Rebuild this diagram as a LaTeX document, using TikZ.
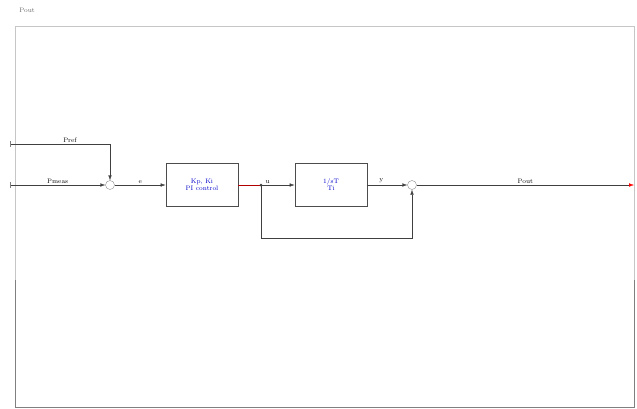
\documentclass[tikz,border=0pt]{standalone}
\usetikzlibrary{arrows.meta,positioning}
\begin{document}
\begin{tikzpicture}[x=1pt,y=-1pt,
    blk/.style={draw=black!70,thick,fill=white,minimum width=72pt,minimum height=43pt,
      font=\fontsize{6.5}{7}\selectfont,text=blue!80!black,align=center,inner sep=1pt},
    sumpt/.style={circle,draw=black!45,minimum size=9pt,inner sep=0pt},
    sig/.style={draw=black!75,-{Latex[length=5pt,width=3.5pt]}},
    lbl/.style={font=\fontsize{6.5}{7}\selectfont,above,inner sep=1.5pt}]
    \useasboundingbox (0,0) rectangle (637,408);
    % Outer frame
    \draw[gray!45,thick] (15,280) -- (15,26) -- (634,26) -- (634,280);
    \draw[gray] (15,280) -- (15,407) -- (634,407) -- (634,280);
    \node[font=\fontsize{6.5}{7}\selectfont,text=black!60] (title) at (27,10) {Pout};

    % Blocks and summing points
    \node[sumpt] (sum1) at (110,185) {};
    \node[blk] (ctrl) at (202,185) {Kp, Ki\\PI control};
    \node[blk] (plant) at (331,185) {1/sT\\Ti};
    \node[sumpt] (sum2) at (412,185) {};

    % Free ends
    \coordinate (inref) at (10,144);
    \coordinate (inmeas) at (10,185);
    \coordinate (br) at (261,185);
    \coordinate (outp) at (634,185);

    % Signals
    \draw[sig] (inref) -| (sum1) node[lbl, pos=0.3] {Pref};
    \draw[sig] (inmeas) -- (sum1) node[lbl, midway] {Pmeas};
    \draw[sig] (sum1) -- (ctrl) node[lbl, midway] {e};
    \draw[red!70!black] (ctrl) -- (br);
    \draw[sig] (br) -- (plant) node[lbl, pos=0.2] {u};
    \fill[black!75] (br) circle (1.5pt);
    \draw[sig] (plant) -- (sum2) node[lbl, pos=0.35] {y};
    \draw[sig] (br) -- ++(0,53) -| (sum2);
    \draw[sig, -{Latex[length=5pt,width=3.5pt,red]}] (sum2) -- (outp) node[lbl, midway] {Pout};

    % Ticks at the inputs
    \foreach \y in {144,185} \draw[gray] (10,\y-3) -- (10,\y+3);
\end{tikzpicture}
\end{document}
